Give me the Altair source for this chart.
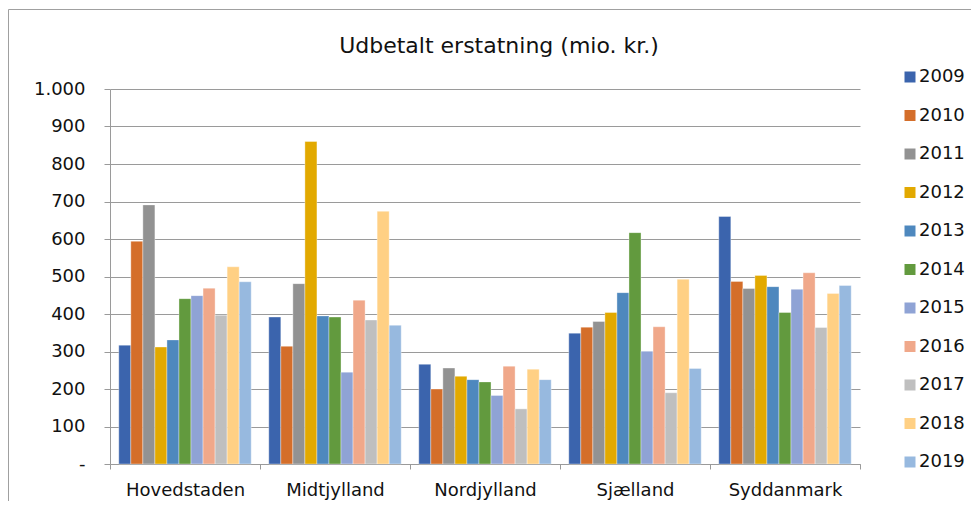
import altair as alt
import pandas as pd

regions = ["Hovedstaden", "Midtjylland", "Nordjylland", "Sjælland", "Syddanmark"]
years = ["2009", "2010", "2011", "2012", "2013", "2014", "2015", "2016", "2017", "2018", "2019"]

hovedstaden = [317, 594, 691, 312, 331, 441, 449, 469, 397, 526, 486]
midtjylland = [392, 314, 481, 860, 395, 392, 245, 437, 384, 674, 370]
nordjylland = [266, 200, 256, 234, 225, 219, 183, 261, 147, 253, 225]
sjaelland = [349, 365, 380, 404, 457, 617, 301, 366, 190, 493, 255]
syddanmark = [660, 487, 468, 503, 473, 404, 466, 510, 364, 455, 476]

colors = ["#3B64AD", "#D46E2A", "#929292", "#E2A900", "#4E88BE", "#629A3E",
          "#8FA3D5", "#F0A88A", "#BFBFBF", "#FFD084", "#97B9DF"]

y_ticks = [0, 100, 200, 300, 400, 500, 600, 700, 800, 900, 1000]
title_text = "Udbetalt erstatning (mio. kr.)"

series = [hovedstaden, midtjylland, nordjylland, sjaelland, syddanmark]
rows = []
for reg, vals in zip(regions, series):
    for yr, v in zip(years, vals):
        rows.append({"region": reg, "year": yr, "value": v})
df = pd.DataFrame(rows)
one = pd.DataFrame({"t": [title_text]})

FONT = "DejaVu Sans"
GRAY = "#9a9a9a"
NB = "\u00a0"

bars = alt.Chart(df).mark_bar(stroke="white", strokeWidth=0.6, strokeOpacity=0.6).encode(
    x=alt.X("region:N", sort=regions,
            scale=alt.Scale(paddingInner=0, paddingOuter=0),
            axis=alt.Axis(title=None, labelAngle=0, tickBand="extent", tickSize=5,
                          labelPadding=12, labelFontSize=18, labelFont=FONT,
                          labelColor="#111", domainColor=GRAY, tickColor=GRAY,
                          grid=False)),
    xOffset=alt.XOffset("year:N", sort=years,
                        scale=alt.Scale(paddingInner=0, paddingOuter=0.73)),
    y=alt.Y("value:Q", scale=alt.Scale(domain=[0, 1000], nice=False),
            axis=alt.Axis(title=None, values=y_ticks, tickSize=6, labelPadding=19,
                          labelFontSize=18, labelFont=FONT, labelColor="#111",
                          domainColor=GRAY, tickColor=GRAY, gridColor=GRAY,
                          labelExpr="datum.value == 0 ? '-" + NB + NB + "' : replace(format(datum.value, ','), ',', '.')")),
    color=alt.Color("year:N", sort=years,
                    scale=alt.Scale(domain=years, range=colors),
                    legend=alt.Legend(title=None, orient="none", legendX=791, legendY=-21,
                                      symbolType="square", symbolSize=121,
                                      symbolStrokeWidth=0, labelFontSize=18,
                                      labelFont=FONT, labelColor="#111",
                                      labelOffset=0, rowPadding=20.5, padding=0)),
)

frame = alt.Chart(one).mark_rect(fill="transparent", stroke="#a0a0a0", strokeWidth=1).encode(
    x=alt.value(-101.5), x2=alt.value(950), y=alt.value(-79.5), y2=alt.value(600)
)

title = alt.Chart(one).mark_text(font=FONT, fontSize=22, color="#111",
                                 align="center", baseline="middle").encode(
    x=alt.value(389), y=alt.value(-43), text="t:N"
)

chart = alt.layer(frame, bars, title).properties(
    width=750, height=375,
    autosize=alt.AutoSizeParams(type="none"),
    padding={"left": 102, "top": 81, "right": 111, "bottom": 37},
).configure_view(strokeWidth=0)

chart.save("out.html", embed_options={"renderer": "svg", "actions": False})
